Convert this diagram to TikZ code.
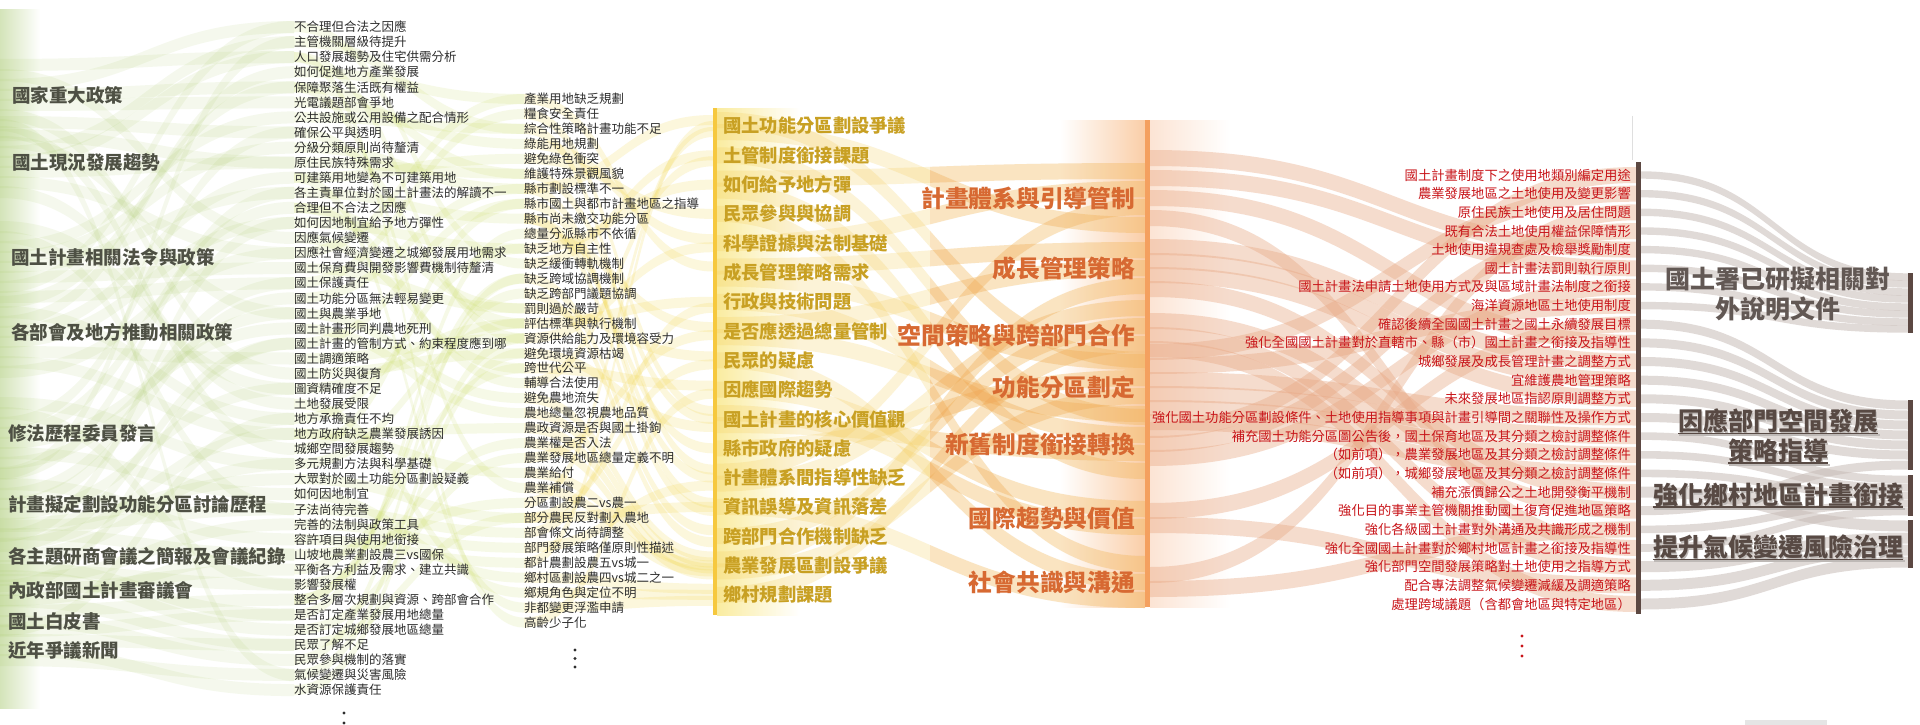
\documentclass[tikz,border=0pt]{standalone}
\usepackage{fontspec}
\setmainfont{Noto Sans CJK TC}
\usetikzlibrary{calc}

\definecolor{issuegray}{RGB}{45,45,45}
\definecolor{srcgray}{RGB}{78,80,68}
\definecolor{topicgold}{RGB}{200,160,35}
\definecolor{themeorange}{RGB}{215,105,50}
\definecolor{actionred}{RGB}{200,20,25}
\definecolor{goalbrown}{RGB}{88,74,68}
\definecolor{goalgray}{RGB}{98,88,84}
\definecolor{shadegray}{RGB}{190,185,182}
\definecolor{ybarcol}{RGB}{246,200,62}
\definecolor{obarcol}{RGB}{244,160,95}
\definecolor{dbarcol}{RGB}{92,72,66}
\definecolor{greenfl}{RGB}{165,200,95}
\definecolor{limefl}{RGB}{200,220,95}
\definecolor{yellowfl}{RGB}{242,215,80}
\definecolor{amberfl}{RGB}{244,205,90}
\definecolor{tanfl}{RGB}{240,150,80}
\definecolor{peachfl}{RGB}{232,168,132}
\definecolor{grayfl}{RGB}{200,188,183}
\definecolor{leftgreen}{RGB}{212,228,185}
\definecolor{yellowglow}{RGB}{250,236,160}
\definecolor{orangeglow}{RGB}{250,206,168}
\definecolor{peachglow}{RGB}{252,228,212}

\pgfdeclarelayer{background}
\pgfsetlayers{background,main}

% band between two named points: from, dy, to, dy, half width
\newcommand{\flowbend}{100}
\newcommand{\flow}[6][]{%
  \fill[#1] ($(#2)+(0,#3-#6)$) .. controls +(\flowbend,0) and +(-\flowbend,0) .. ($(#4)+(0,#5-#6)$)
    -- ($(#4)+(0,#5+#6)$) .. controls +(-\flowbend,0) and +(\flowbend,0) .. ($(#2)+(0,#3+#6)$) -- cycle;}
\newcommand{\amberlist}{1/-6/4/-27,1/6/1/27,2/0/5/-27,3/-6/1/-27,3/6/5/27,4/0/7/-18,5/0/1/-9,6/-6/2/-18,6/6/3/27,7/0/5/-9,8/-6/2/0,8/6/4/27,9/0/7/0,10/0/6/-9,11/-6/6/9,11/6/5/9,12/0/4/-9,13/-6/1/9,13/6/3/-27,14/0/7/18,15/0/3/-9,16/-6/2/18,16/6/4/9,17/0/3/9}

\tikzset{
  issuetext/.style={anchor=west,inner sep=0pt,text=issuegray,font=\fontsize{12.5}{15}\selectfont},
  srctext/.style={anchor=west,inner sep=0pt,text=srcgray,font=\bfseries\fontsize{18.5}{22}\selectfont},
  topictext/.style={anchor=west,inner sep=0pt,text=topicgold,font=\bfseries\fontsize{18.3}{22}\selectfont},
  themetext/.style={anchor=east,inner sep=0pt,text=themeorange,font=\bfseries\fontsize{23.7}{28}\selectfont},
  actiontext/.style={anchor=east,inner sep=0pt,text=actionred,font=\fontsize{13.3}{16}\selectfont},
  goaltext/.style={inner sep=0pt,align=center,text=goalbrown,font=\bfseries\fontsize{25}{30}\selectfont},
  goalshade/.style={goaltext,text=shadegray},
  barbox/.style={inner sep=0pt,minimum width=5pt,draw=none},
  greenband/.style={fill=greenfl,fill opacity=.11},
  limeband/.style={fill=limefl,fill opacity=.15},
  yellowband/.style={fill=yellowfl,fill opacity=.2},
  amberband/.style={fill=amberfl,fill opacity=.24},
  tanband/.style={fill=tanfl,fill opacity=.16},
  peachband/.style={fill=peachfl,fill opacity=.4},
  grayband/.style={fill=grayfl,fill opacity=.55},
}

\begin{document}
\begin{tikzpicture}[x=1pt,y=-1pt]
\useasboundingbox (0,0) rectangle (1920,725);
\coordinate (lft) at (0,0);

% sources
\node[srctext] (s1) at (12,95) {國家重大政策};
\node[srctext] (s2) at (12,162) {國土現況發展趨勢};
\node[srctext] (s3) at (11,257) {國土計畫相關法令與政策};
\node[srctext] (s4) at (11,332) {各部會及地方推動相關政策};
\node[srctext] (s5) at (8,433) {修法歷程委員發言};
\node[srctext] (s6) at (8,504) {計畫擬定劃設功能分區討論歷程};
\node[srctext] (s7) at (8,556) {各主題研商會議之簡報及會議紀錄};
\node[srctext] (s8) at (8,590) {內政部國土計畫審議會};
\node[srctext] (s9) at (8,621) {國土白皮書};
\node[srctext] (s10) at (8,650) {近年爭議新聞};

% issues
\node[issuetext] (p1) at (294,27.0) {不合理但合法之因應};
\node[issuetext] (p2) at (294,42.1) {主管機關層級待提升};
\node[issuetext] (p3) at (294,57.1) {人口發展趨勢及住宅供需分析};
\node[issuetext] (p4) at (294,72.2) {如何促進地方產業發展};
\node[issuetext] (p5) at (294,87.3) {保障聚落生活既有權益};
\node[issuetext] (p6) at (294,102.4) {光電議題部會爭地};
\node[issuetext] (p7) at (294,117.4) {公共設施或公用設備之配合情形};
\node[issuetext] (p8) at (294,132.5) {確保公平與透明};
\node[issuetext] (p9) at (294,147.6) {分級分類原則尚待釐清};
\node[issuetext] (p10) at (294,162.6) {原住民族特殊需求};
\node[issuetext] (p11) at (294,177.7) {可建築用地變為不可建築用地};
\node[issuetext] (p12) at (294,192.8) {各主責單位對於國土計畫法的解讀不一};
\node[issuetext] (p13) at (294,207.8) {合理但不合法之因應};
\node[issuetext] (p14) at (294,222.9) {如何因地制宜給予地方彈性};
\node[issuetext] (p15) at (294,238.0) {因應氣候變遷};
\node[issuetext] (p16) at (294,253.1) {因應社會經濟變遷之城鄉發展用地需求};
\node[issuetext] (p17) at (294,268.1) {國土保育費與開發影響費機制待釐清};
\node[issuetext] (p18) at (294,283.2) {國土保護責任};
\node[issuetext] (p19) at (294,298.3) {國土功能分區無法輕易變更};
\node[issuetext] (p20) at (294,313.3) {國土與農業爭地};
\node[issuetext] (p21) at (294,328.4) {國土計畫形同判農地死刑};
\node[issuetext] (p22) at (294,343.5) {國土計畫的管制方式、約束程度應到哪};
\node[issuetext] (p23) at (294,358.5) {國土調適策略};
\node[issuetext] (p24) at (294,373.6) {國土防災與復育};
\node[issuetext] (p25) at (294,388.7) {圖資精確度不足};
\node[issuetext] (p26) at (294,403.8) {土地發展受限};
\node[issuetext] (p27) at (294,418.8) {地方承擔責任不均};
\node[issuetext] (p28) at (294,433.9) {地方政府缺乏農業發展誘因};
\node[issuetext] (p29) at (294,449.0) {城鄉空間發展趨勢};
\node[issuetext] (p30) at (294,464.0) {多元規劃方法與科學基礎};
\node[issuetext] (p31) at (294,479.1) {大眾對於國土功能分區劃設疑義};
\node[issuetext] (p32) at (294,494.2) {如何因地制宜};
\node[issuetext] (p33) at (294,509.2) {子法尚待完善};
\node[issuetext] (p34) at (294,524.3) {完善的法制與政策工具};
\node[issuetext] (p35) at (294,539.4) {容許項目與使用地銜接};
\node[issuetext] (p36) at (294,554.5) {山坡地農業劃設農三vs國保};
\node[issuetext] (p37) at (294,569.5) {平衡各方利益及需求、建立共識};
\node[issuetext] (p38) at (294,584.6) {影響發展權};
\node[issuetext] (p39) at (294,599.7) {整合多層次規劃與資源、跨部會合作};
\node[issuetext] (p40) at (294,614.7) {是否訂定產業發展用地總量};
\node[issuetext] (p41) at (294,629.8) {是否訂定城鄉發展地區總量};
\node[issuetext] (p42) at (294,644.9) {民眾了解不足};
\node[issuetext] (p43) at (294,659.9) {民眾參與機制的落實};
\node[issuetext] (p44) at (294,675.0) {氣候變遷與災害風險};
\node[issuetext] (p45) at (294,690.1) {水資源保護責任};

% sub-issues
\node[issuetext] (q1) at (524,99.0) {產業用地缺乏規劃};
\node[issuetext] (q2) at (524,114.0) {糧食安全責任};
\node[issuetext] (q3) at (524,128.9) {綜合性策略計畫功能不足};
\node[issuetext] (q4) at (524,143.9) {綠能用地規劃};
\node[issuetext] (q5) at (524,158.8) {避免綠色衝突};
\node[issuetext] (q6) at (524,173.8) {維護特殊景觀風貌};
\node[issuetext] (q7) at (524,188.8) {縣市劃設標準不一};
\node[issuetext] (q8) at (524,203.7) {縣市國土與都市計畫地區之指導};
\node[issuetext] (q9) at (524,218.7) {縣市尚未繳交功能分區};
\node[issuetext] (q10) at (524,233.6) {總量分派縣市不依循};
\node[issuetext] (q11) at (524,248.6) {缺乏地方自主性};
\node[issuetext] (q12) at (524,263.6) {缺乏緩衝轉軌機制};
\node[issuetext] (q13) at (524,278.5) {缺乏跨域協調機制};
\node[issuetext] (q14) at (524,293.5) {缺乏跨部門議題協調};
\node[issuetext] (q15) at (524,308.4) {罰則過於嚴苛};
\node[issuetext] (q16) at (524,323.4) {評估標準與執行機制};
\node[issuetext] (q17) at (524,338.4) {資源供給能力及環境容受力};
\node[issuetext] (q18) at (524,353.3) {避免環境資源枯竭};
\node[issuetext] (q19) at (524,368.3) {跨世代公平};
\node[issuetext] (q20) at (524,383.2) {輔導合法使用};
\node[issuetext] (q21) at (524,398.2) {避免農地流失};
\node[issuetext] (q22) at (524,413.2) {農地總量忽視農地品質};
\node[issuetext] (q23) at (524,428.1) {農政資源是否與國土掛鉤};
\node[issuetext] (q24) at (524,443.1) {農業權是否入法};
\node[issuetext] (q25) at (524,458.0) {農業發展地區總量定義不明};
\node[issuetext] (q26) at (524,473.0) {農業給付};
\node[issuetext] (q27) at (524,488.0) {農業補償};
\node[issuetext] (q28) at (524,502.9) {分區劃設農二vs農一};
\node[issuetext] (q29) at (524,517.9) {部分農民反對劃入農地};
\node[issuetext] (q30) at (524,532.8) {部會條文尚待調整};
\node[issuetext] (q31) at (524,547.8) {部門發展策略僅原則性描述};
\node[issuetext] (q32) at (524,562.8) {都計農劃設農五vs城一};
\node[issuetext] (q33) at (524,577.7) {鄉村區劃設農四vs城二之一};
\node[issuetext] (q34) at (524,592.7) {鄉規角色與定位不明};
\node[issuetext] (q35) at (524,607.6) {非都變更浮濫申請};
\node[issuetext] (q36) at (524,622.6) {高齡少子化};

% topics
\node[topictext] (t1) at (723,126.0) {國土功能分區劃設爭議};
\node[topictext] (t2) at (723,155.3) {土管制度銜接課題};
\node[topictext] (t3) at (723,184.6) {如何給予地方彈};
\node[topictext] (t4) at (723,213.9) {民眾參與與協調};
\node[topictext] (t5) at (723,243.2) {科學證據與法制基礎};
\node[topictext] (t6) at (723,272.5) {成長管理策略需求};
\node[topictext] (t7) at (723,301.8) {行政與技術問題};
\node[topictext] (t8) at (723,331.1) {是否應透過總量管制};
\node[topictext] (t9) at (723,360.4) {民眾的疑慮};
\node[topictext] (t10) at (723,389.7) {因應國際趨勢};
\node[topictext] (t11) at (723,419.0) {國土計畫的核心價值觀};
\node[topictext] (t12) at (723,448.3) {縣市政府的疑慮};
\node[topictext] (t13) at (723,477.6) {計畫體系間指導性缺乏};
\node[topictext] (t14) at (723,506.9) {資訊誤導及資訊落差};
\node[topictext] (t15) at (723,536.2) {跨部門合作機制缺乏};
\node[topictext] (t16) at (723,565.5) {農業發展區劃設爭議};
\node[topictext] (t17) at (723,594.8) {鄉村規劃課題};

% themes
\node[themetext] (h1) at (1135,198) {計畫體系與引導管制};
\node[themetext] (h2) at (1135,268) {成長管理策略};
\node[themetext] (h3) at (1135,335) {空間策略與跨部門合作};
\node[themetext] (h4) at (1135,387) {功能分區劃定};
\node[themetext] (h5) at (1135,444) {新舊制度銜接轉換};
\node[themetext] (h6) at (1135,518) {國際趨勢與價值};
\node[themetext] (h7) at (1135,582) {社會共識與溝通};

% revisions
\node[actiontext] (r1) at (1631,175.0) {國土計畫制度下之使用地類別編定用途};
\node[actiontext] (r2) at (1631,193.7) {農業發展地區之土地使用及變更影響};
\node[actiontext] (r3) at (1631,212.3) {原住民族土地使用及居住問題};
\node[actiontext] (r4) at (1631,231.0) {既有合法土地使用權益保障情形};
\node[actiontext] (r5) at (1631,249.6) {土地使用違規查處及檢舉獎勵制度};
\node[actiontext] (r6) at (1631,268.3) {國土計畫法罰則執行原則};
\node[actiontext] (r7) at (1631,286.9) {國土計畫法申請土地使用方式及與區域計畫法制度之銜接};
\node[actiontext] (r8) at (1631,305.6) {海洋資源地區土地使用制度};
\node[actiontext] (r9) at (1631,324.2) {確認後續全國國土計畫之國土永續發展目標};
\node[actiontext] (r10) at (1631,342.9) {強化全國國土計畫對於直轄市、縣（市）國土計畫之銜接及指導性};
\node[actiontext] (r11) at (1631,361.5) {城鄉發展及成長管理計畫之調整方式};
\node[actiontext] (r12) at (1631,380.2) {宜維護農地管理策略};
\node[actiontext] (r13) at (1631,398.8) {未來發展地區指認原則調整方式};
\node[actiontext] (r14) at (1631,417.5) {強化國土功能分區劃設條件、土地使用指導事項與計畫引導間之關聯性及操作方式};
\node[actiontext] (r15) at (1631,436.1) {補充國土功能分區圖公告後，國土保育地區及其分類之檢討調整條件};
\node[actiontext] (r16) at (1631,454.8) {（如前項），農業發展地區及其分類之檢討調整條件};
\node[actiontext] (r17) at (1631,473.4) {（如前項），城鄉發展地區及其分類之檢討調整條件};
\node[actiontext] (r18) at (1631,492.1) {補充漲價歸公之土地開發衡平機制};
\node[actiontext] (r19) at (1631,510.7) {強化目的事業主管機關推動國土復育促進地區策略};
\node[actiontext] (r20) at (1631,529.4) {強化各級國土計畫對外溝通及共識形成之機制};
\node[actiontext] (r21) at (1631,548.0) {強化全國國土計畫對於鄉村地區計畫之銜接及指導性};
\node[actiontext] (r22) at (1631,566.7) {強化部門空間發展策略對土地使用之指導方式};
\node[actiontext] (r23) at (1631,585.3) {配合專法調整氣候變遷減緩及調適策略};
\node[actiontext] (r24) at (1631,604.0) {處理跨域議題（含都會地區與特定地區）};

% bars
\node[barbox,fill=ybarcol,minimum width=4pt,minimum height=507pt] (ybar) at (715,361.5) {};
\node[barbox,fill=obarcol,minimum height=487pt] (obar) at (1147.5,363.5) {};
\node[barbox,fill=dbarcol,minimum height=452pt] (dbar) at (1638.5,388) {};
\node[barbox,fill=dbarcol,minimum height=60pt] (rb1) at (1910.5,303) {};
\node[barbox,fill=dbarcol,minimum height=70pt] (rb2) at (1910.5,435) {};
\node[barbox,fill=dbarcol,minimum height=41pt] (rb3) at (1910.5,495.5) {};
\node[barbox,fill=dbarcol,minimum height=48pt] (rb4) at (1910.5,544) {};
\draw[gray!25,line width=1pt] (dbar.north west) ++(-3,-46) -- ++(0,44);

% goals
\node[goaltext,text=goalgray] (g1) at (1778,294) {國土署已研擬相關對\\外說明文件};
\node[goalshade] (g2as) at (1779.5,422.5) {因應部門空間發展};
\node[goalshade] (g2bs) at (1779.5,452.5) {策略指導};
\node[goalshade] (g3s) at (1779.5,496.5) {強化鄉村地區計畫銜接};
\node[goalshade] (g4s) at (1779.5,548.5) {提升氣候變遷風險治理};
\foreach \g in {g2as,g2bs,g3s,g4s}
  \draw[shadegray,line width=1.8pt] (\g.south west) -- (\g.south east);
\node[goaltext] (g2a) at (1778,421) {因應部門空間發展};
\node[goaltext] (g2b) at (1778,451) {策略指導};
\node[goaltext] (g3) at (1778,495) {強化鄉村地區計畫銜接};
\node[goaltext] (g4) at (1778,547) {提升氣候變遷風險治理};
\foreach \g in {g2a,g2b,g3,g4}
  \draw[goalbrown,line width=1.6pt] (\g.south west) -- (\g.south east);

% more rows below
\fill[issuegray] (344,713) circle (1.7) (344,723) circle (1.7);
\fill[issuegray] (575,650) circle (1.7) (575,658.5) circle (1.7) (575,667) circle (1.7);
\fill[actionred] (1522,636) circle (1.7) (1522,646) circle (1.7) (1522,656) circle (1.7);
\fill[gray!20] (1745,720) rectangle (1827,725);

\begin{pgfonlayer}{background}
\fill[white] (0,0) rectangle (1920,725);
\shade[left color=leftgreen,right color=white] (0,10) rectangle (40,708);
\shade[left color=yellowglow,right color=white] (717,108) rectangle (800,615);
\shade[left color=white,right color=orangeglow] (1060,120) rectangle (1145,607);
\shade[left color=peachglow,right color=white] (1150,120) rectangle (1230,607);

\renewcommand{\flowbend}{147}
\foreach \src/\dy/\dst in {1/-10/1,2/-10/2,2/0/3,4/-10/4,1/0/5,1/10/6,3/-10/7,5/-10/8,3/0/9,2/10/10,4/0/11,3/10/12,5/0/13,4/10/14,1/-20/15,2/20/16,3/20/17,6/-10/18,6/0/19,2/-20/20,5/10/21,7/-10/22,4/20/23,1/20/24,6/10/25,2/30/26,4/-20/27,4/30/28,2/-30/29,7/0/30,6/20/31,5/20/32,3/-20/33,8/-10/34,6/-20/35,6/30/36,8/0/37,5/-20/38,9/-10/39,7/10/40,7/20/41,10/-10/42,9/0/43,1/30/44,10/0/45,3/30/1,1/-30/3,4/-30/5,2/-40/8,6/-30/12,4/40/16,5/30/20,3/-30/25,5/-30/30,8/10/36,9/10/40,10/10/44,1/40/10,5/40/2,7/-20/14,3/40/18,7/30/22,6/40/28,7/-30/33,8/-20/38,9/-20/42,10/-20/27}
  {\flow[greenband]{lft |- s\src}{\dy}{p\dst.west}{0}{6}}

\renewcommand{\flowbend}{115}
\foreach \src/\dst in {4/1,18/2,2/3,6/4,11/5,5/6,9/7,22/8,12/9,40/10,14/11,1/12,39/13,39/14,13/15,25/16,3/17,45/18,37/19,13/20,20/21,21/22,28/23,38/24,41/25,28/26,5/27,36/28,31/29,33/30,34/31,35/32,32/33,26/34,11/35,3/36,7/3,8/16,10/6,15/19,16/1,17/15,19/7,23/17,24/18,27/11,29/8,30/16,42/29,43/13,44/17}
  {\flow[limeband]{p\src.west}{0}{q\dst.west}{0}{5}}

\renewcommand{\flowbend}{95}
\foreach \src/\dst/\dy in {1/6/-6,2/11/-8,3/13/-8,4/5/-4,5/4/0,6/11/0,7/1/-6,8/13/0,9/12/0,10/8/-4,11/3/0,12/2/0,13/15/-6,14/15/6,15/9/-4,16/7/0,17/5/4,18/11/8,19/10/-4,20/2/6,21/16/-9,22/16/-3,23/16/3,24/16/9,25/8/4,26/16/0,27/16/6,28/1/6,29/9/4,30/7/6,31/13/8,32/1/0,33/17/-6,34/17/0,35/17/6,36/10/4,7/14/-4,9/14/4,29/14/0}
  {\flow[yellowband]{q\src.west}{0}{ybar.west |- t\dst}{\dy}{5}}

\renewcommand{\flowbend}{215}
\foreach \src/\da/\dst/\db in \amberlist
  {\flow[amberband]{ybar.east |- t\src}{\da}{obar.west |- h\dst}{\db}{8}}
\begin{scope}
\clip (930,0) rectangle (1146,725);
\foreach \src/\da/\dst/\db in \amberlist
  {\flow[tanband]{ybar.east |- t\src}{\da}{obar.west |- h\dst}{\db}{8}}
\end{scope}

\renewcommand{\flowbend}{245}
\foreach \src/\da/\dst in {1/-40/5,1/-20/6,1/0/10,1/20/21,2/-21/11,2/-7/12,2/7/13,2/21/18,3/-14/19,3/0/22,3/14/24,4/-35/2,4/-21/8,4/-7/14,4/7/15,4/21/16,4/35/17,5/-14/1,5/0/4,5/14/7,6/-7/9,6/7/23,7/-7/3,7/7/20}
  {\flow[peachband]{obar.east |- h\src}{\da}{dbar.west |- r\dst}{0}{8}}

\renewcommand{\flowbend}{135}
\foreach \src/\dst/\dy/\hw in {1/1/-26/3.7,2/1/-19/3.7,3/1/-11/3.7,4/1/-4/3.7,5/1/4/3.7,6/1/11/3.7,7/1/19/3.7,8/1/26/3.7,9/2/-30/4.5,10/2/-20/4.5,11/2/-10/4.5,12/2/0/4.5,13/2/10/4.5,14/2/20/4.5,19/2/30/4.5,15/3/-16/3.8,16/3/-8/3.8,17/3/0/3.8,20/3/8/3.8,21/3/16/3.8,18/4/-18/5.5,22/4/-6/5.5,23/4/6/5.5,24/4/18/5.5}
  {\flow[grayband]{dbar.east |- r\src}{0}{rb\dst.west}{\dy}{\hw}}
\end{pgfonlayer}
\end{tikzpicture}
\end{document}
